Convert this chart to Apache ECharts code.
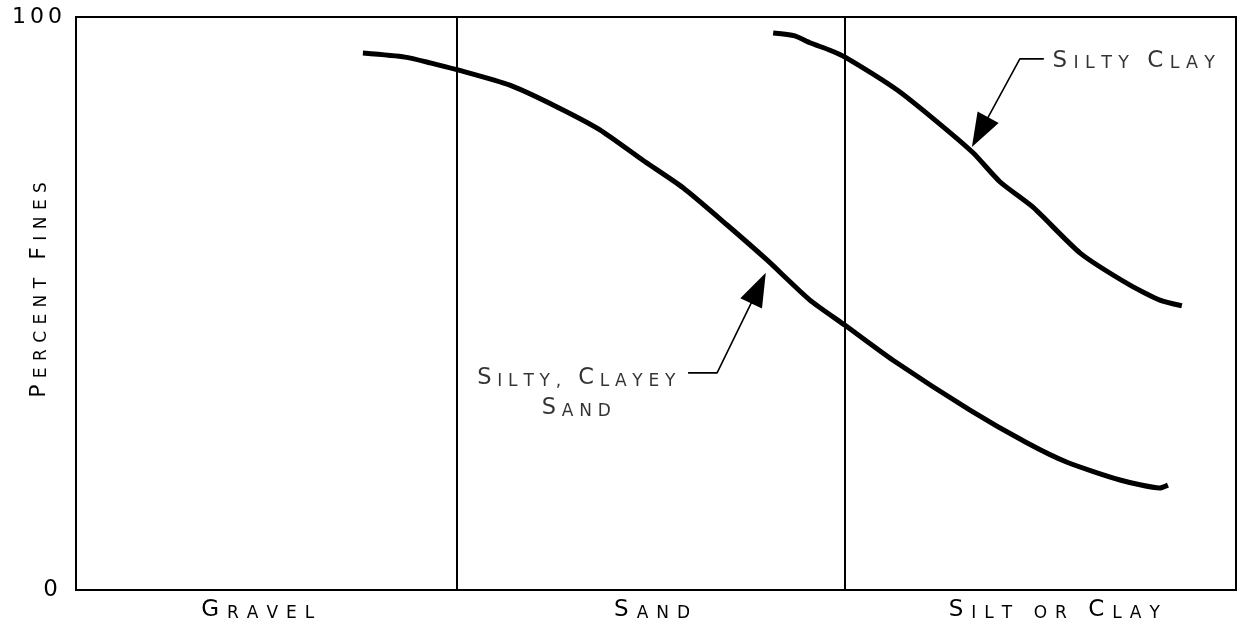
<!DOCTYPE html>
<html><head><meta charset="utf-8">
<script src="https://cdn.jsdelivr.net/npm/echarts@6/dist/echarts.min.js"></script>
<style>html,body{margin:0;padding:0;background:#fff}#c{width:1241px;height:625px}</style>
</head><body><div id="c"></div>
<script>
// ---- data ----
const xLabels = ['Gravel', 'Sand', 'Silt or Clay'];
const xLabelPos = [47, 149, 253];
const yTicks = [0, 100];
const yName = 'Percent Fines';
const dividerX = [98.5, 198.9];

const sandCurveName = 'Silty, Clayey Sand';
const sandCurveX = [74.2, 85.1, 91.6, 98.5, 112.2, 124.4, 135.5, 146.6, 157.0, 168.4, 178.7, 189.8, 198.9, 211.3, 231.2, 245.9, 256.3, 270.0, 280.3, 282.4];
const sandCurveY = [93.7, 93.0, 92.0, 90.8, 88.1, 84.3, 80.3, 75.0, 70.2, 63.7, 57.6, 50.6, 46.2, 40.1, 31.4, 25.7, 22.3, 19.2, 17.8, 18.3];

const clayCurveName = 'Silty Clay';
const clayCurveX = [180.3, 185.9, 189.8, 195.0, 198.9, 212.3, 222.7, 232.0, 239.0, 247.5, 259.7, 272.6, 280.3, 286.0];
const clayCurveY = [97.2, 96.7, 95.5, 94.2, 93.0, 87.3, 81.7, 76.3, 71.2, 66.8, 58.8, 53.2, 50.6, 49.6];

// annotation anchors (data coordinates)
const sandLabelPos = [129.4, 34.9];
const clayLabelPos = [251.7, 92.3];
const sandLeaderX = [158.3, 165.8, 176.5];
const sandLeaderY = [37.9, 37.9, 52.7];
const clayLeaderX = [250.3, 244.1, 233.8];
const clayLeaderY = [92.7, 92.7, 79.9];
const arrowX = [176.5, 233.8];
const arrowY = [52.7, 79.9];
const arrowRot = [-25.5, 151.5];

// ---- helpers ----
const FONT = 'DejaVu Sans';
const INK = '#000';
function makeRich(fB, fS, p, LB) {
  LB = LB || fB;
  const LS = LB - 0.52 * (fB - fS);
  return {
    B: { fontFamily: FONT, fontSize: fB, lineHeight: LB, verticalAlign: 'bottom', padding: [0, p, 0, p], color: INK },
    S: { fontFamily: FONT, fontSize: fS, lineHeight: LS, verticalAlign: 'bottom', padding: [0, p, 0, p], color: INK }
  };
}
function sc(str) {
  let out = '';
  for (const ch of str) {
    if (ch === '\n') { out += '\n'; continue; }
    if (ch === ' ') { out += '{S| }'; continue; }
    if (/[A-Z0-9]/.test(ch)) out += '{B|' + ch + '}';
    else out += '{S|' + ch.toUpperCase() + '}';
  }
  return out;
}
const pairs = (xs, ys) => xs.map((x, i) => [x, ys[i]]);

const yRich = makeRich(22, 17, 2);
yRich.Z = { fontFamily: FONT, fontSize: 23, lineHeight: 22, color: INK, padding: [0, 6, 0, 2] };

const chart = echarts.init(document.getElementById('c'), null, { renderer: 'canvas' });
chart.setOption({
  backgroundColor: '#fff',
  animation: false,
  grid: { left: 76, right: 5, top: 17, bottom: 35, show: true, borderColor: '#000', borderWidth: 2, backgroundColor: 'transparent', containLabel: false, outerBoundsMode: 'none' },
  xAxis: {
    type: 'value', min: 0, max: 300,
    axisLine: { show: false }, axisTick: { show: false }, splitLine: { show: false },
    axisLabel: {
      customValues: xLabelPos,
      margin: 9,
      formatter: function (v) {
        let idx = 0, best = 1e9;
        xLabelPos.forEach((p, i) => { if (Math.abs(p - v) < best) { best = Math.abs(p - v); idx = i; } });
        return sc(xLabels[idx]);
      },
      rich: makeRich(23, 17, 4)
    }
  },
  yAxis: {
    type: 'value', min: yTicks[0], max: yTicks[1], interval: 100,
    axisLine: { show: false }, axisTick: { show: false }, splitLine: { show: false },
    axisLabel: { margin: 12, formatter: v => (v === 0 ? '{Z|0}' : sc(String(v))), rich: yRich },
    name: sc(yName), nameLocation: 'middle', nameRotate: 90, nameGap: 26, nameMoveOverlap: false,
    nameTextStyle: { padding: [0, 0, 0, 27], rich: makeRich(22, 17, 3.2) }
  },
  series: [
    {
      name: sandCurveName, type: 'line', data: pairs(sandCurveX, sandCurveY), smooth: 0.2,
      showSymbol: false, lineStyle: { color: '#000', width: 5 }, z: 5,
      markLine: {
        silent: true, symbol: ['none', 'none'], label: { show: false },
        lineStyle: { color: '#000', width: 2, type: 'solid' },
        data: dividerX.map(x => ({ xAxis: x }))
      }
    },
    {
      name: clayCurveName, type: 'line', data: pairs(clayCurveX, clayCurveY), smooth: 0.2,
      showSymbol: false, lineStyle: { color: '#000', width: 5 }, z: 5
    },
    {
      type: 'line', data: pairs(sandLeaderX, sandLeaderY), showSymbol: false, silent: true,
      lineStyle: { color: '#000', width: 1.6 }, z: 4
    },
    {
      type: 'line', data: pairs(clayLeaderX, clayLeaderY), showSymbol: false, silent: true,
      lineStyle: { color: '#000', width: 1.6 }, z: 4
    },
    {
      type: 'scatter', silent: true, z: 6,
      data: arrowX.map((x, i) => ({ value: [x, arrowY[i]], symbolRotate: arrowRot[i] })),
      symbol: 'triangle', symbolSize: [24, 34],
      itemStyle: { color: '#000', opacity: 1 }
    },
    {
      type: 'scatter', silent: true, symbolSize: 0, z: 7,
      data: [
        { value: sandLabelPos, label: { show: true, position: 'inside', formatter: sc('Silty, Clayey\nSand'), rich: makeRich(22.5, 17, 2.9, 30) } },
        { value: clayLabelPos, label: { show: true, position: 'right', distance: 0, formatter: sc('Silty Clay'), rich: makeRich(23, 17.5, 3.2) } }
      ]
    }
  ]
});
</script>
</body></html>
